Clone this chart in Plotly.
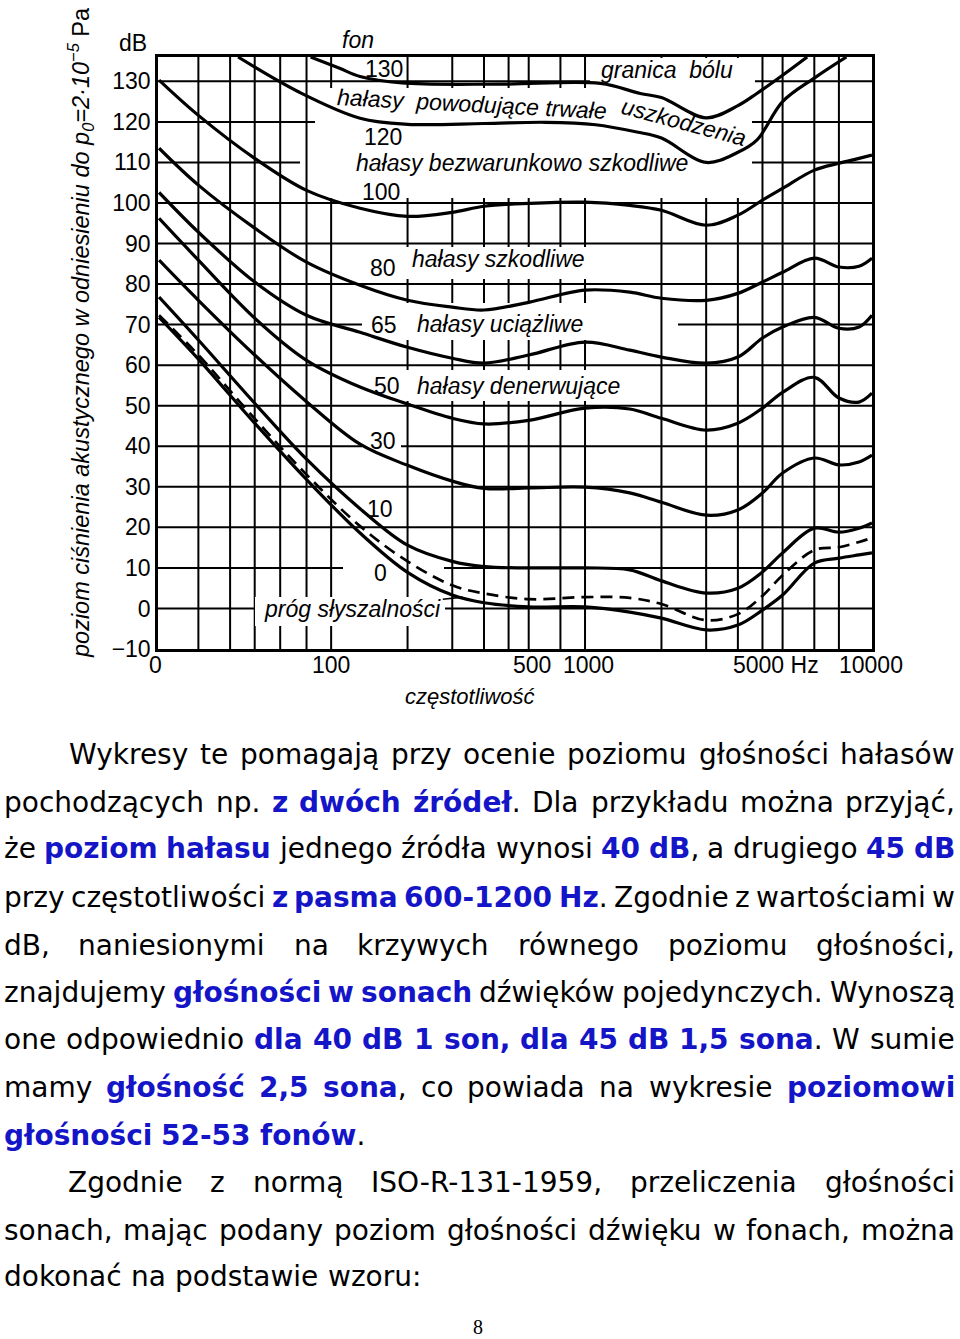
import glob
import math
import os
import struct

import plotly.graph_objects as go

# ------------------------------------------------------------------ data
grid_freqs = [30, 40, 50, 63, 80, 100, 200, 300, 400, 500, 600, 800, 1000,
              2000, 3000, 4000, 5000, 6000, 8000, 10000]
grid_db = [0, 10, 20, 30, 40, 50, 60, 70, 80, 90, 100, 110, 120, 130]
y_ticks = [-10, 0, 10, 20, 30, 40, 50, 60, 70, 80, 90, 100, 110, 120, 130]

x_label_freqs = [20.8, 100, 500, 1000, 5000, 10000]
x_label_texts = ["0", "100", "500", "1000", "5000 Hz", "10000"]

f_130 = [83, 108, 130, 190, 460, 1150, 1650, 2000, 3000, 4000, 4750, 6000, 7500]
db_130 = [136, 133.2, 131.2, 129.6, 129.3, 129.5, 127.0, 126.0, 121.0, 124.0, 127.0, 131.5, 136]

f_120 = [43, 75, 130, 200, 400, 700, 1100, 1600, 2000, 3000, 4000, 4750, 6000, 8000, 10700]
db_120 = [136, 127.3, 120.9, 119.4, 119.6, 119.9, 119.3, 117.5, 116.0, 110.0, 112.5, 115.5, 125.0, 130.8, 136]

f_std = [21, 30, 50, 80, 130, 200, 300, 400, 600, 1000, 1500, 2000, 3000, 4000,
         5000, 6000, 8000, 10000, 12000, 13500]
db_100 = [130.3, 121.6, 111.0, 103.1, 98.7, 96.7, 97.7, 99.2, 99.9, 100.2, 99.4, 98.2,
          94.5, 97.0, 100.7, 103.6, 108.1, 109.8, 111.0, 111.8]
db_80 = [113.5, 104.4, 93.8, 85.4, 79.7, 76.0, 74.3, 73.6, 75.5, 78.5, 78.0, 76.5,
         76.0, 77.7, 80.5, 82.9, 86.4, 84.2, 84.4, 86.4]
db_65 = [102.6, 92.8, 80.5, 72.3, 68.1, 64.4, 61.7, 60.5, 62.5, 65.7, 63.7, 62.0,
         60.5, 62.0, 66.7, 69.4, 71.8, 69.1, 69.4, 72.3]
db_50 = [96.2, 85.9, 71.6, 61.2, 54.6, 50.4, 46.9, 45.5, 46.4, 49.4, 49.2, 46.9,
         44.0, 45.7, 49.4, 53.3, 57.0, 51.9, 50.9, 53.1]
db_30 = [85.9, 76.0, 62.5, 51.0, 40.5, 35.3, 31.4, 29.6, 29.7, 29.9, 28.5, 26.2,
         23.0, 24.3, 28.5, 33.4, 37.1, 35.4, 36.1, 37.8]
db_10 = [76.8, 66.2, 50.6, 36.8, 24.6, 15.6, 11.6, 10.3, 10.0, 10.0, 9.5, 6.8,
         3.8, 5.0, 9.0, 13.7, 19.8, 18.8, 19.8, 21.1]
db_dashed = [72.3, 62.5, 46.8, 33.0, 20.3, 11.6, 5.7, 3.7, 2.3, 2.8, 2.6, 1.1,
             -2.9, -1.4, 3.1, 8.2, 14.4, 15.1, 16.4, 17.4]
db_threshold = [71.8, 61.5, 45.7, 31.8, 18.6, 8.9, 3.3, 1.4, 0.4, 0.4, -0.9, -2.4,
                -5.3, -4.1, -0.4, 3.3, 11.2, 12.4, 13.2, 13.7]

para_lines = [
    "Wykresy te pomagają przy ocenie poziomu głośności hałasów",
    "pochodzących np. [z dwóch źródeł]. Dla przykładu można przyjąć,",
    "że [poziom hałasu] jednego źródła wynosi [40 dB], a drugiego [45 dB]",
    "przy częstotliwości [z pasma 600-1200 Hz]. Zgodnie z wartościami w",
    "dB, naniesionymi na krzywych równego poziomu głośności,",
    "znajdujemy [głośności w sonach] dźwięków pojedynczych. Wynoszą",
    "one odpowiednio [dla 40 dB 1 son, dla 45 dB 1,5 sona]. W sumie",
    "mamy [głośność 2,5 sona], co powiada na wykresie [poziomowi]",
    "[głośności 52-53 fonów].",
    "Zgodnie z normą ISO-R-131-1959, przeliczenia głośności",
    "sonach, mając podany poziom głośności dźwięku w fonach, można",
    "dokonać na podstawie wzoru:",
]
para_indent = [True, False, False, False, False, False, False, False, False, True, False, False]
para_justify = [True, True, True, True, True, True, True, True, False, True, True, False]

# ------------------------------------------------------------------ layout constants (px)
W, H = 960, 1339
PL, PR, PT, PB = 158, 872, 57, 649
F_MIN, F_MAX = 20.8, 13500
DB_MIN, DB_MAX = -10, 136
PW, PH = PR - PL, PB - PT

BLUE = "#1515c8"
TXT_FONT = "DejaVu Sans"
TXT_SIZE = 28
CH_FONT = "Liberation Sans, Arial, sans-serif"


def paper_x(px):
    return (px - PL) / PW


def paper_y(py):
    return (PB - py) / PH


# ------------------------------------------------------------------ font metrics
def find_font(name):
    roots = ["/usr/share/fonts", "/usr/local/share/fonts",
             os.path.expanduser("~/.fonts"), os.path.expanduser("~/.local/share/fonts")]
    for r in roots:
        hits = glob.glob(os.path.join(r, "**", name), recursive=True)
        if hits:
            return hits[0]
    return None


def load_width_fn(path, fallback):
    try:
        data = open(path, "rb").read()
        num = struct.unpack(">H", data[4:6])[0]
        tabs = {}
        for i in range(num):
            o = 12 + 16 * i
            tag = data[o:o + 4].decode("latin-1")
            toff = struct.unpack(">I", data[o + 8:o + 12])[0]
            tabs[tag] = toff
        upem = struct.unpack(">H", data[tabs["head"] + 18:tabs["head"] + 20])[0]
        nhm = struct.unpack(">H", data[tabs["hhea"] + 34:tabs["hhea"] + 36])[0]
        hm = tabs["hmtx"]
        adv = [struct.unpack(">H", data[hm + 4 * i:hm + 4 * i + 2])[0] for i in range(nhm)]
        cm = tabs["cmap"]
        nsub = struct.unpack(">H", data[cm + 2:cm + 4])[0]
        sub = None
        for i in range(nsub):
            pid, eid, so = struct.unpack(">HHI", data[cm + 4 + 8 * i:cm + 12 + 8 * i])
            fmt = struct.unpack(">H", data[cm + so:cm + so + 2])[0]
            if fmt == 4 and ((pid == 3 and eid == 1) or pid == 0):
                sub = cm + so
                if pid == 3:
                    break
        segx2 = struct.unpack(">H", data[sub + 6:sub + 8])[0]
        n = segx2 // 2
        ends = struct.unpack(">%dH" % n, data[sub + 14:sub + 14 + segx2])
        starts = struct.unpack(">%dH" % n, data[sub + 16 + segx2:sub + 16 + 2 * segx2])
        deltas = struct.unpack(">%dh" % n, data[sub + 16 + 2 * segx2:sub + 16 + 3 * segx2])
        ro_base = sub + 16 + 3 * segx2
        ros = struct.unpack(">%dH" % n, data[ro_base:ro_base + segx2])

        def glyph(c):
            for i in range(n):
                if ends[i] >= c:
                    if starts[i] > c:
                        return 0
                    if ros[i] == 0:
                        return (c + deltas[i]) & 0xFFFF
                    a = ro_base + 2 * i + ros[i] + 2 * (c - starts[i])
                    g = struct.unpack(">H", data[a:a + 2])[0]
                    return (g + deltas[i]) & 0xFFFF if g else 0
            return 0

        cache = {}

        def width(ch):
            if ch not in cache:
                g = glyph(ord(ch))
                cache[ch] = adv[min(g, nhm - 1)] / upem
            return cache[ch]

        return width
    except Exception:
        return lambda ch: fallback


reg_path = find_font("DejaVuSans.ttf")
bold_path = find_font("DejaVuSans-Bold.ttf")
w_reg = load_width_fn(reg_path, 0.60) if reg_path else (lambda ch: 0.60)
w_bold = load_width_fn(bold_path, 0.68) if bold_path else (lambda ch: 0.68)


def parse_line(s):
    words, cur, buf, bold = [], [], "", False
    for ch in s:
        if ch in "[]":
            if buf:
                cur.append((buf, bold))
                buf = ""
            bold = ch == "["
        elif ch == " ":
            if buf:
                cur.append((buf, bold))
                buf = ""
            if cur:
                words.append(cur)
                cur = []
        else:
            buf += ch
    if buf:
        cur.append((buf, bold))
    if cur:
        words.append(cur)
    return words


def seg_width(word):
    tot = 0.0
    for txt, b in word:
        fn = w_bold if b else w_reg
        tot += sum(fn(c) for c in txt)
    return tot * TXT_SIZE


def seg_html(word):
    out = ""
    for txt, b in word:
        if b:
            out += "<b><span style='color:%s'>%s</span></b>" % (BLUE, txt)
        else:
            out += txt
    return out


# ------------------------------------------------------------------ figure
fig = go.Figure()

curves = [
    (f_130, db_130, "solid"), (f_120, db_120, "solid"), (f_std, db_100, "solid"),
    (f_std, db_80, "solid"), (f_std, db_65, "solid"), (f_std, db_50, "solid"),
    (f_std, db_30, "solid"), (f_std, db_10, "solid"), (f_std, db_dashed, "12px,7px"),
    (f_std, db_threshold, "solid"),
]
for fx, dy, dash in curves:
    fig.add_trace(go.Scatter(
        x=fx, y=dy, mode="lines", hoverinfo="skip", showlegend=False,
        line=dict(color="black", width=3.2 if dash == "solid" else 2.7,
                  shape="spline", smoothing=1.0, dash=dash)))


def rect_px(x0, y0, x1, y1):
    return dict(type="rect", xref="paper", yref="paper",
                x0=paper_x(x0), x1=paper_x(x1), y0=paper_y(y1), y1=paper_y(y0),
                line=dict(width=0), fillcolor="white", layer="below")


shapes = []
# horizontal grid lines first
for d in grid_db:
    shapes.append(dict(type="line", xref="paper", yref="y", x0=0, x1=1, y0=d, y1=d,
                       line=dict(color="black", width=2), layer="below"))
# gaps that only break horizontal lines
hgap_px = [
    (300, 154, 316, 166),
    (600, 315, 678, 327),
    (362, 437, 401, 449),
    (343, 562, 444, 574),
]
for b in hgap_px:
    shapes.append(rect_px(*b))
# vertical grid lines
for f in grid_freqs:
    shapes.append(dict(type="line", xref="x", yref="paper", x0=f, x1=f, y0=0, y1=1,
                       line=dict(color="black", width=2), layer="below"))
# white bands where the drawing leaves the grid out behind its labels
mask_px = [
    (315, 88, 752, 198),
    (590, 58, 755, 90),
    (365, 247, 600, 279),
    (362, 303, 600, 340),
    (362, 370, 635, 401),
    (362, 425, 401, 437),
    (365, 497, 398, 519),
    (362, 574, 398, 588),
    (255, 597, 445, 626),
]
for b in mask_px:
    shapes.append(rect_px(*b))

ann = []


def px_text(text, px, py, size=23, angle=0, xanchor="center", family=CH_FONT,
            color="black"):
    ann.append(dict(text=text, x=paper_x(px), y=paper_y(py), xref="paper", yref="paper",
                    showarrow=False, xanchor=xanchor, yanchor="middle", textangle=angle,
                    font=dict(family=family, size=size, color=color)))


# chart labels
px_text("dB", 133, 43, size=23)
px_text("<i>fon</i>", 358, 40)
px_text("130", 384, 69)
px_text("<i>granica  bólu</i>", 667, 70)
px_text("<i>hałasy  powodujące trwałe</i>", 472, 104, angle=3)
px_text("<i>uszkodzenia</i>", 684, 122, angle=15)
px_text("120", 383, 137)
px_text("<i>hałasy bezwarunkowo szkodliwe</i>", 522, 163)
px_text("100", 381, 192)
px_text("80", 383, 268)
px_text("<i>hałasy szkodliwe</i>", 498, 259)
px_text("65", 384, 325)
px_text("<i>hałasy uciążliwe</i>", 500, 324)
px_text("50", 387, 386)
px_text("<i>hałasy denerwujące</i>", 518, 386)
px_text("30", 383, 441)
px_text("10", 380, 509)
px_text("0", 380, 573)
px_text("<i>częstotliwość</i>", 470, 696, size=22)
px_text("<i>poziom ciśnienia akustycznego w odniesieniu do p<sub>0</sub>=2·10<sup>−5</sup></i> Pa",
        80, 333, size=23.5, angle=-90)

# threshold label with its leader line
ann.append(dict(text="<i>próg słyszalności</i>", x=math.log10(330), y=2.8, xref="x", yref="y",
                ax=-110, ay=12, showarrow=True, arrowhead=0, arrowwidth=1.6,
                arrowcolor="black", font=dict(family=CH_FONT, size=23, color="black")))

# x tick labels
x_anchor = ["center", "center", "left", "center", "left", "left"]
x_shift = [-3, 0, 2, 3, -31, -2]
for f, t, a, s in zip(x_label_freqs, x_label_texts, x_anchor, x_shift):
    ann.append(dict(text=t, x=math.log10(f), y=paper_y(665), xref="x", yref="paper",
                    showarrow=False, xanchor=a, yanchor="middle", xshift=s,
                    font=dict(family=CH_FONT, size=23, color="black")))

# paragraph text, justified word by word
line_y = [755, 802, 849, 897, 945, 992, 1039, 1087, 1135, 1182, 1230, 1277]
LEFT, RIGHT, INDENT = 4, 955, 68
for s, ind, just, yc in zip(para_lines, para_indent, para_justify, line_y):
    words = parse_line(s)
    widths = [seg_width(w) for w in words]
    left = INDENT if ind else LEFT
    if just and len(words) > 1:
        gap = (RIGHT - left - sum(widths)) / (len(words) - 1)
    else:
        gap = w_reg(" ") * TXT_SIZE
    x = left
    for w, wd in zip(words, widths):
        px_text(seg_html(w), x + wd / 2, yc, size=TXT_SIZE, family=TXT_FONT)
        x += wd + gap

px_text("8", 478, 1327, size=20, family="Liberation Serif, DejaVu Serif, serif")

fig.update_layout(
    width=W, height=H, autosize=False,
    margin=dict(l=PL, r=W - PR, t=PT, b=H - PB, pad=0),
    paper_bgcolor="white", plot_bgcolor="white",
    shapes=shapes, annotations=ann, showlegend=False,
    xaxis=dict(type="log", range=[math.log10(F_MIN), math.log10(F_MAX)],
               showgrid=False, zeroline=False, showticklabels=False, ticks="",
               showline=True, mirror=True, linecolor="black", linewidth=2.5),
    yaxis=dict(range=[DB_MIN, DB_MAX], tickvals=y_ticks, showgrid=False, zeroline=False,
               ticks="", showline=True, mirror=True, linecolor="black", linewidth=2.5,
               tickfont=dict(family=CH_FONT, size=23, color="black")),
)

fig.write_html("out.html")
